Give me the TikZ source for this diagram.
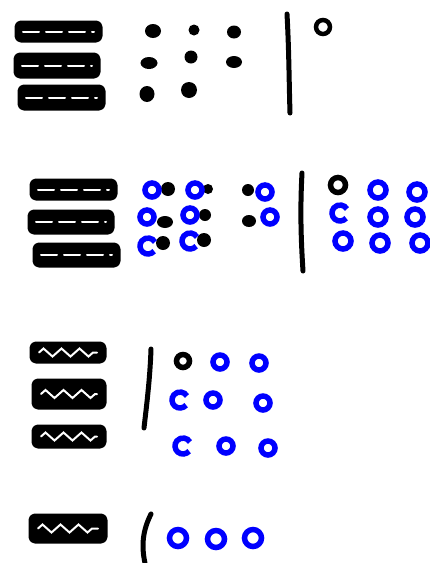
\documentclass[tikz,border=0pt]{standalone}
\usetikzlibrary{decorations.pathmorphing}
\tikzset{
  bar/.style={draw=black, fill=black, line width=5pt, rounded corners=4pt, line join=round},
  barmark/.style={draw=white, line width=2pt, line cap=round},
  blob/.style={fill=black},
  ring/.style={draw=black, line width=5.5pt},
  bluering/.style={ring, draw=blue},
  divider/.style={draw=black, line width=5pt, line cap=round}
}
% bar with white dashes / with white zigzag
\newcommand{\dashbar}[4]{%
  \draw[bar] (#1,#2) rectangle (#3,#4);
  \draw[barmark, dash pattern=on 16pt off 7pt] ({#1+6},{(#2+#4)/2}) -- ({#3-6},{(#2+#4)/2});}
\newcommand{\zigbar}[4]{%
  \draw[bar] (#1,#2) rectangle (#3,#4);
  \draw[barmark, decorate, decoration={zigzag, segment length=18pt, amplitude=4pt}]
    ({#1+7},{(#2+#4)/2}) -- ({#3-7},{(#2+#4)/2});}

\begin{document}
\begin{tikzpicture}[x=1pt, y=-1pt]
  \useasboundingbox[fill=white] (0,0) rectangle (429,563);

  % first row
  \dashbar{17}{23}{100}{40}
  \dashbar{16}{55}{98}{76}
  \dashbar{20}{87}{103}{108}
  \foreach \x/\y/\rx/\ry in {153/31/8/7, 194/30/5.5/5.5, 234/32/7/6.5,
      149/63/8.5/6, 191/57/6.5/6.5, 234/62/8/6, 147/94/7.5/8, 189/90/8/8}
    \fill[blob] (\x,\y) ellipse [x radius=\rx, y radius=\ry];
  \draw[divider] (287,14) .. controls (289,50) and (289,80) .. (290,113);
  \draw[ring, line width=4.5pt] (323,27) circle [radius=7];

  % second row
  \dashbar{32}{181}{115}{198}
  \dashbar{30}{212}{112}{232}
  \dashbar{35}{245}{118}{265}
  \foreach \x/\y/\rx/\ry in {168/189/7/7, 208/189/5/5, 248/190/6/6,
      165/222/8/6, 205/215/6/6, 249/221/7/6, 163/243/7/7, 204/240/7/7}
    \fill[blob] (\x,\y) ellipse [x radius=\rx, y radius=\ry];
  \foreach \x/\y in {152/190, 195/190, 265/192, 147/217, 190/215, 270/217}
    \draw[bluering] (\x,\y) circle [radius=7];
  \foreach \x/\y in {148/246, 190/241}
    \draw[bluering] (\x,\y) ++(40:8) arc [start angle=40, end angle=330, radius=8];
  \draw[divider] (302,173) .. controls (300,210) and (301,240) .. (303,271);
  \draw[ring] (338,185) circle [radius=7.5];
  \foreach \x/\y in {378/190, 417/192, 378/217, 415/217, 343/241, 380/243, 420/243}
    \draw[bluering] (\x,\y) circle [radius=8];
  \draw[bluering] (340,213) ++(40:8) arc [start angle=40, end angle=330, radius=8];

  % third row
  \zigbar{32}{344}{104}{361}
  \zigbar{34}{381}{104}{407}
  \zigbar{34}{427}{104}{446}
  \draw[divider] (151,349) .. controls (150,380) and (146,410) .. (144,428);
  \draw[ring] (183,361) circle [radius=6.5];
  \foreach \x/\y in {220/362, 259/363, 213/400, 263/403, 226/446, 268/448}
    \draw[bluering] (\x,\y) circle [radius=7];
  \foreach \x/\y in {180/400, 183/446}
    \draw[bluering] (\x,\y) ++(40:8) arc [start angle=40, end angle=330, radius=8];

  % fourth row
  \zigbar{31}{516}{105}{541}
  \draw[divider] (151,514) .. controls (143,530) and (141,545) .. (145,563);
  \foreach \x/\y in {178/538, 216/539, 253/538}
    \draw[bluering, line width=5.5pt] (\x,\y) circle [radius=8.5];
\end{tikzpicture}
\end{document}
